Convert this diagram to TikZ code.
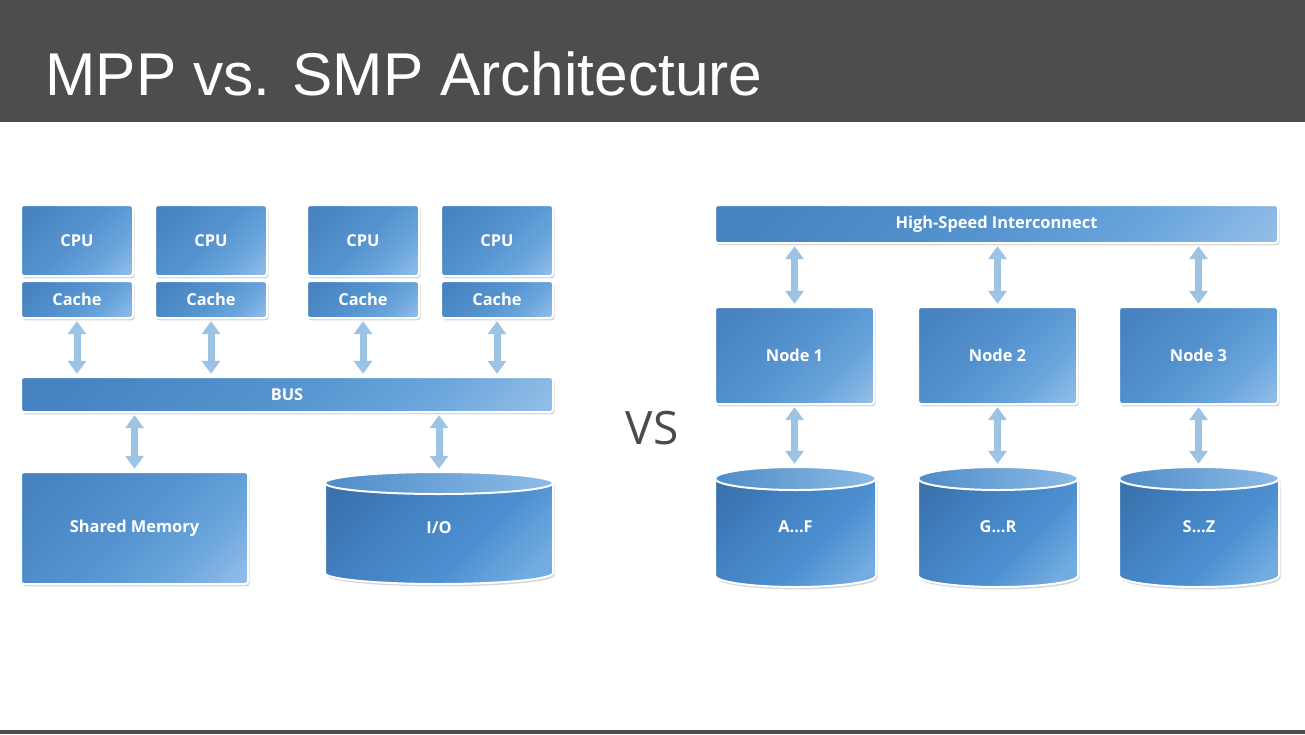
\documentclass[tikz,border=0pt]{standalone}
\usepackage{fontspec}
\setmainfont{Liberation Sans}
\newfontfamily\boxfamily{Open Sans}
\usetikzlibrary{arrows.meta,shadows}
\definecolor{barc}{HTML}{4D4D4D}
\definecolor{arrowc}{HTML}{9CC2E4}
\definecolor{vsc}{HTML}{4A4A4A}
\definecolor{bA}{HTML}{B0D0EE}
\definecolor{bB}{HTML}{8DBAE5}
\definecolor{bC}{HTML}{6AA5DC}
\definecolor{bD}{HTML}{5694D0}
\definecolor{bE}{HTML}{4783C0}
\definecolor{cA}{HTML}{72ACE0}
\definecolor{cB}{HTML}{4D90D1}
\definecolor{cC}{HTML}{4382C3}
\definecolor{cD}{HTML}{3A72AD}
\definecolor{tL}{HTML}{4F8CC8}
\definecolor{tR}{HTML}{8CBCE7}
\pgfdeclareverticalshading{boxshade}{100bp}{color(0bp)=(bA); color(18bp)=(bB); color(32bp)=(bC); color(50bp)=(bD); color(78bp)=(bE); color(100bp)=(bE)}
\pgfdeclareverticalshading{cylshade}{100bp}{color(0bp)=(cA); color(22bp)=(cA); color(40bp)=(cB); color(60bp)=(cC); color(80bp)=(cD); color(100bp)=(cD)}
\newcommand\boxfont{\boxfamily\bfseries\fontsize{8.2}{9.5}\selectfont}
\tikzset{
  blockbox/.style={rectangle, rounded corners=1.5pt, draw=white, line width=1pt,
    shade, shading=boxshade, shading angle=45,
    drop shadow={shadow xshift=0.8pt, shadow yshift=-1.2pt, opacity=0.22, fill=black!70},
    text=white, font=\boxfont, inner sep=0pt, outer sep=0pt},
  cylbody/.style={draw=white, line width=1pt, shade, shading=cylshade, shading angle=45,
    drop shadow={shadow xshift=0.8pt, shadow yshift=-1.2pt, opacity=0.22, fill=black!70}},
  cyltop/.style={draw=white, line width=1pt, left color=tL, right color=tR},
  cyllabel/.style={rectangle, text=white, font=\boxfont, inner sep=0pt, outer sep=0pt},
  biarrow/.style={draw=arrowc, line width=3.5pt,
    {Triangle[width=9pt,length=6.5pt]}-{Triangle[width=9pt,length=6.5pt]},
    shorten >=1.6pt, shorten <=1.6pt},
}
% #1 centre x, #2 top y, #3 bottom y, #4 x radius, #5 y radius (pixels)
\newcommand\drawcyl[5]{%
  \path[cylbody] ({#1-#4},{#2+#5}) -- ({#1-#4},{#3-#5})
    arc[start angle=180, end angle=360, x radius={#4*0.5pt}, y radius={#5*0.5pt}]
    -- ({#1+#4},{#2+#5}) -- cycle;
  \path[cyltop] (#1,{#2+#5}) ellipse[x radius={#4*0.5pt}, y radius={#5*0.5pt}];
}
\begin{document}
\begin{tikzpicture}[x=0.5pt,y=-0.5pt]
\useasboundingbox (0,0) rectangle (1305,734);
\fill[white] (0,0) rectangle (1305,734);
% title bar
\fill[barc] (0,0) rectangle (1305,122);
\fill[barc] (0,730) rectangle (1305,734);
\node[anchor=base west, inner sep=0pt, text=white, font=\fontsize{30.2}{36}\selectfont] (title) at (45,95) {MPP vs. SMP Architecture};

% ---------- SMP ----------
\node[blockbox, minimum width=56pt, minimum height=35.5pt] (cpu1) at (77,240.5) {CPU};
\node[blockbox, minimum width=56pt, minimum height=35.5pt] (cpu2) at (211,240.5) {CPU};
\node[blockbox, minimum width=56pt, minimum height=35.5pt] (cpu3) at (363,240.5) {CPU};
\node[blockbox, minimum width=56pt, minimum height=35.5pt] (cpu4) at (497,240.5) {CPU};
\node[blockbox, minimum width=56pt, minimum height=18.5pt] (cache1) at (77,299.5) {Cache};
\node[blockbox, minimum width=56pt, minimum height=18.5pt] (cache2) at (211,299.5) {Cache};
\node[blockbox, minimum width=56pt, minimum height=18.5pt] (cache3) at (363,299.5) {Cache};
\node[blockbox, minimum width=56pt, minimum height=18.5pt] (cache4) at (497,299.5) {Cache};
\node[blockbox, minimum width=266pt, minimum height=17.5pt] (bus) at (287,394.5) {BUS};
\node[blockbox, minimum width=113.5pt, minimum height=56pt] (mem) at (134.5,528) {Shared Memory};
\drawcyl{439}{472}{584}{114}{11}
\node[cyllabel, minimum width=114pt, minimum height=56pt] (io) at (439,528) {I/O};

\foreach \c in {cache1,cache2,cache3,cache4}
  \draw[biarrow] (\c.south) -- (\c.south |- bus.north);
\draw[biarrow] (mem.north |- bus.south) -- (mem.north);
\draw[biarrow] (io.north |- bus.south) -- (io.north);

% VS
\node[text=vsc, font=\boxfamily\fontsize{23}{27}\selectfont, inner sep=0pt] (vs) at (652,428) {VS};

% ---------- MPP ----------
\node[blockbox, minimum width=281.5pt, minimum height=19pt] (hsi) at (996.5,224) {High-Speed Interconnect};
\node[blockbox, minimum width=79.5pt, minimum height=48.5pt] (n1) at (794.5,355.5) {Node 1};
\node[blockbox, minimum width=79.5pt, minimum height=48.5pt] (n2) at (997.5,355.5) {Node 2};
\node[blockbox, minimum width=79.5pt, minimum height=48.5pt] (n3) at (1198.5,355.5) {Node 3};
\drawcyl{795.5}{467}{587}{80.5}{11.5}
\drawcyl{998}{467}{587}{80}{11.5}
\drawcyl{1199}{467}{587}{80}{11.5}
\node[cyllabel, minimum width=80pt, minimum height=60pt] (d1) at (795.5,527) {A...F};
\node[cyllabel, minimum width=80pt, minimum height=60pt] (d2) at (998,527) {G...R};
\node[cyllabel, minimum width=80pt, minimum height=60pt] (d3) at (1199,527) {S...Z};

\foreach \n/\d in {n1/d1,n2/d2,n3/d3}{
  \draw[biarrow] (\n.north |- hsi.south) -- (\n.north);
  \draw[biarrow] (\n.south) -- (\n.south |- \d.north);
}
\end{tikzpicture}
\end{document}
